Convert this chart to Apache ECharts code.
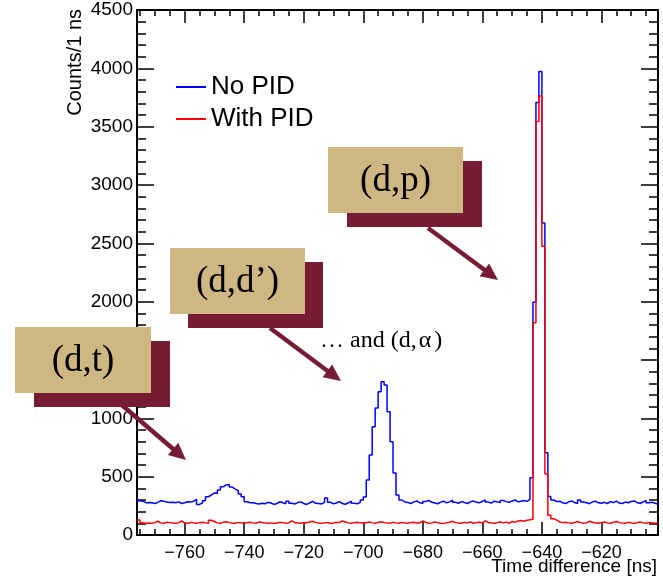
<!DOCTYPE html>
<html><head><meta charset="utf-8">
<script src="https://cdn.jsdelivr.net/npm/echarts@6/dist/echarts.min.js"></script>
<style>html,body{margin:0;padding:0;background:#fff}#c{width:663px;height:580px}</style>
</head><body><div id="c"></div><script>
// Histogram: 1 ns bins, left edges from binStart
const binStart = -776;
const binWidth = 1;
const noPid = [
 294,290,277,278,277,270,280,294,290,282,278,280,277,284,270,277,285,282,290,306,262,
 274,294,328,343,360,355,386,414,429,432,411,394,380,351,328,285,276,276,270,266,
 272,268,280,274,262,270,285,276,268,290,272,266,278,284,270,262,276,288,272,270,266,280,317,280,268,274,286,270,264,276,290,272,268,280,300,
 326,471,686,928,1088,1228,1314,1285,1057,800,531,343,300,283,
 278,270,284,292,276,270,288,296,280,274,268,282,290,276,284,298,280,272,286,278,270,284,292,280,276,288,300,282,274,290,284,278,296,286,280,292,300,284,290,296,288,305,
 490,1995,3708,3973,2675,705,330,
 300,286,290,276,270,284,292,278,270,300,282,276,268,284,290,276,272,280,270,286,278,290,274,270,282,276,288,292,278,270,284,296,276,280,272,266
];
const withPid = [
 128,104,100,102,100,106,118,104,100,110,106,102,100,104,120,104,100,108,104,100,106,
 110,104,100,126,116,104,100,110,114,106,102,100,108,104,100,106,110,104,100,112,
 108,104,100,104,98,102,110,106,100,104,120,108,102,100,106,104,112,118,106,102,100,104,108,98,102,110,106,120,112,104,100,106,110,102,104,
 106,112,104,100,108,114,106,102,100,110,104,100,108,104,
 100,106,110,102,104,120,108,100,104,112,106,100,98,104,110,118,106,102,100,108,104,112,100,106,110,104,120,108,102,100,106,112,104,110,100,116,110,120,124,118,126,130,
 135,1820,3545,3763,2475,522,170,
 140,128,112,106,110,104,100,108,114,106,100,104,118,110,102,100,106,112,104,100,108,116,106,102,100,110,104,98,106,112,104,100,108,104,100,102
];
const seriesNames = ['No PID', 'With PID'];
const xMajorTicks = [-760, -740, -720, -700, -680, -660, -640, -620];
const xMinorTicks = [-775,-770,-765,-755,-750,-745,-735,-730,-725,-715,-710,-705,-695,-690,-685,-675,-670,-665,-655,-650,-645,-635,-630,-625,-615,-610,-605];
const xMin = -776, xMax = -601;
const yMin = 0, yMax = 4500, yStep = 500;

const FONT = '"Liberation Sans", Arial, Helvetica, sans-serif';
const SERIF = '"Liberation Serif", "Times New Roman", serif';
const TAN = '#CFB784', MAROON = '#761D33';

function toSteps(vals) {
  const d = vals.map((v, i) => [binStart + i * binWidth, v]);
  d.push([binStart + vals.length * binWidth, vals[vals.length - 1]]);
  return d;
}
const fmtX = v => String(v).replace('-', '\u2212');

function xAx(pos, ticks, len, labels, line) {
  return {
    type: 'value', min: xMin, max: xMax, position: pos, offset: 0,
    axisLine: { show: line, onZero: false, lineStyle: { color: '#000', width: 2 } },
    axisTick: { show: true, inside: true, length: len, customValues: ticks, lineStyle: { color: '#000', width: 1.5 } },
    axisLabel: labels ? { show: true, customValues: ticks, formatter: fmtX, fontSize: 18, fontFamily: FONT, color: '#000', margin: 9 } : { show: false },
    splitLine: { show: false }
  };
}
function yAx(pos, labels) {
  return {
    type: 'value', min: yMin, max: yMax, interval: yStep, position: pos,
    axisLine: { show: true, onZero: false, lineStyle: { color: '#000', width: 2 } },
    axisTick: { show: true, inside: true, length: 17, lineStyle: { color: '#000', width: 1.5 } },
    minorTick: { show: true, splitNumber: 5, length: 9, lineStyle: { color: '#000', width: 1.5 } },
    axisLabel: labels ? { show: true, formatter: v => String(v), fontSize: 19, fontFamily: FONT, color: '#000', margin: 4 } : { show: false },
    splitLine: { show: false }, minorSplitLine: { show: false }
  };
}
function arrow(x1, y1, x2, y2) {
  const dx = x2 - x1, dy = y2 - y1, L = Math.hypot(dx, dy), ux = dx / L, uy = dy / L;
  const hl = 17, hw = 8;
  const bx = x2 - ux * hl, by = y2 - uy * hl;
  return [
    { type: 'line', shape: { x1, y1, x2: bx + ux * 2, y2: by + uy * 2 }, style: { stroke: MAROON, lineWidth: 4.5 }, z: 10 },
    { type: 'polygon', shape: { points: [[x2, y2], [bx - uy * hw, by + ux * hw], [bx + uy * hw, by - ux * hw]] }, style: { fill: MAROON }, z: 10 }
  ];
}
function box(x, y, w, h, sx, sy, label) {
  return [
    { type: 'rect', shape: { x: x + sx, y: y + sy, width: w, height: h }, style: { fill: MAROON }, z: 11 },
    { type: 'rect', shape: { x, y, width: w, height: h }, style: { fill: TAN }, z: 12 },
    { type: 'text', x: x + w / 2, y: y + h / 2 + 1, style: { text: label, font: '37px ' + SERIF, fill: '#000', align: 'center', verticalAlign: 'middle' }, z: 13 }
  ];
}

const graphics = [].concat(
  arrow(428, 228, 498, 280),
  arrow(270, 328, 341, 381),
  arrow(116, 400, 186, 460),
  box(328, 147, 135, 66, 19, 14, '(d,p)'),
  box(170, 248, 135, 66, 18, 14, '(d,d\u2019)'),
  box(15, 327, 136, 66, 19, 14, '(d,t)'),
  [
    { type: 'text', x: 320, y: 341, style: {
        text: '{a|\u2026 and (d,}{b|\u03b1}{a|)}',
        rich: { a: { font: '24px ' + SERIF, fill: '#000' }, b: { font: '24px ' + SERIF, fill: '#000', padding: [0, 3, 0, 2] } },
        align: 'left', verticalAlign: 'middle' }, z: 13 },
    { type: 'text', x: 75, y: 9, rotation: Math.PI / 2, style: { text: 'Counts/1 ns', font: '20px ' + FONT, fill: '#000', align: 'right', verticalAlign: 'middle' }, z: 13 },
    { type: 'text', x: 657, y: 567, style: { text: 'Time difference [ns]', font: '19px ' + FONT, fill: '#000', align: 'right', verticalAlign: 'middle' }, z: 13 }
  ]
);

const chart = echarts.init(document.getElementById('c'), null, { renderer: 'canvas' });
chart.setOption({
  backgroundColor: '#fff',
  animation: false,
  grid: { left: 137, right: 5, top: 10, bottom: 45, containLabel: false },
  xAxis: [
    xAx('bottom', xMajorTicks, 13, true, true),
    xAx('bottom', xMinorTicks, 6, false, false),
    xAx('top', xMajorTicks, 13, false, true),
    xAx('top', xMinorTicks, 6, false, false)
  ],
  yAxis: [yAx('left', true), yAx('right', false)],
  legend: {
    left: 171, top: 69, orient: 'vertical', itemWidth: 30, itemHeight: 2, itemGap: 6, icon: 'rect',
    textStyle: { fontSize: 26, fontFamily: FONT, color: '#000', lineHeight: 26 },
    data: seriesNames
  },
  series: [
    { name: seriesNames[0], type: 'line', step: 'end', data: toSteps(noPid), symbol: 'none',
      lineStyle: { color: '#0000FF', width: 1.5 }, itemStyle: { color: '#0000FF' }, z: 2 },
    { name: seriesNames[1], type: 'line', step: 'end', data: toSteps(withPid), symbol: 'none',
      lineStyle: { color: '#FF0000', width: 1.5 }, itemStyle: { color: '#FF0000' }, z: 3 }
  ],
  graphic: graphics
});
</script></body></html>
